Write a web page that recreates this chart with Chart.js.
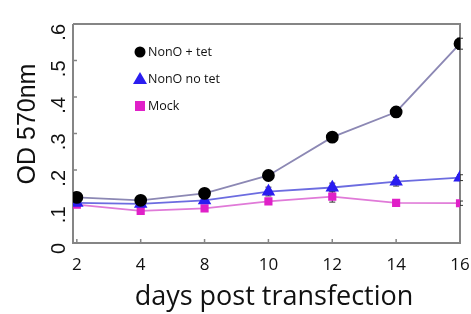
<!DOCTYPE html>
<html><head><meta charset="utf-8">
<script src="https://cdn.jsdelivr.net/npm/chart.js@4/dist/chart.umd.min.js"></script>
<style>html,body{margin:0;padding:0;background:#fff}#wrap{width:471px;height:314px}</style>
</head><body><div id="wrap"><canvas id="c" width="471" height="314"></canvas></div>
<script>
const days = ['2','4','8','10','12','14','16'];
const nonoTet = [0.125,0.117,0.136,0.185,0.290,0.359,0.546];
const nonoTetErr = [0.008,0.006,0.006,0.010,0.012,0.008,0.015];
const nonoNoTet = [0.110,0.107,0.117,0.141,0.152,0.168,0.179];
const nonoNoTetErr = [0.008,0.006,0.008,0.012,0.012,0.012,0.008];
const mock = [0.105,0.088,0.095,0.114,0.127,0.110,0.109];
const mockErr = [0.005,0.006,0.006,0.008,0.015,0.008,0.006];
const yTicks = [0,0.1,0.2,0.3,0.4,0.5,0.6];
const seriesNames = ['NonO + tet','NonO no tet','Mock'];
const xTitle = 'days post transfection';
const yTitle = 'OD 570nm';

const pts = arr => arr.map((v,i)=>({x:i,y:v}));
const AXIS = '#858585';

const extras = {
  id:'extras',
  beforeDatasetsDraw(chart){
    const {ctx, chartArea:a, scales:{x,y}} = chart;
    ctx.save();
    ctx.strokeStyle = AXIS; ctx.lineWidth = 2;
    ctx.beginPath();
    ctx.moveTo(a.left,a.top); ctx.lineTo(a.right,a.top); ctx.lineTo(a.right,a.bottom);
    ctx.lineTo(a.left,a.bottom); ctx.lineTo(a.left,a.top);
    ctx.stroke();
    ctx.lineWidth = 1.5;
    yTicks.forEach(v=>{ const py=y.getPixelForValue(v); ctx.beginPath(); ctx.moveTo(a.left,py); ctx.lineTo(a.left+4,py); ctx.stroke(); });
    days.forEach((d,i)=>{ const px=x.getPixelForValue(i); ctx.beginPath(); ctx.moveTo(px,a.bottom); ctx.lineTo(px,a.bottom-4); ctx.stroke(); });
    const errs=[nonoTetErr,nonoNoTetErr,mockErr];
    chart.data.datasets.forEach((ds,k)=>{
      ctx.strokeStyle = '#333'; ctx.lineWidth=1;
      ds.data.forEach((p,i)=>{
        const px=x.getPixelForValue(p.x);
        const y1=y.getPixelForValue(p.y+errs[k][i]), y2=y.getPixelForValue(p.y-errs[k][i]);
        ctx.beginPath(); ctx.moveTo(px,y1); ctx.lineTo(px,y2);
        ctx.moveTo(px-3,y1); ctx.lineTo(px+3,y1); ctx.moveTo(px-3,y2); ctx.lineTo(px+3,y2); ctx.stroke();
      });
    });
    ctx.restore();
  },
  afterDraw(chart){
    const {ctx} = chart;
    ctx.save();
    ctx.font = '12.5px "Open Sans"';
    ctx.textBaseline='middle'; ctx.fillStyle='#111';
    const lx=140, ys=[52,79,106];
    chart.data.datasets.forEach((ds,k)=>{
      const yy=ys[k];
      ctx.fillStyle=ds.pointBackgroundColor;
      ctx.beginPath();
      if(k===0){ ctx.arc(lx,yy,5.5,0,Math.PI*2); }
      else if(k===1){ ctx.moveTo(lx,yy-7); ctx.lineTo(lx+7,yy+5); ctx.lineTo(lx-7,yy+5); ctx.closePath(); }
      else { ctx.rect(lx-5,yy-5,10,10); }
      ctx.fill();
      ctx.fillStyle='#111';
      ctx.fillText(ds.label, lx+8, yy);
    });
    ctx.fillStyle='#111';
    ctx.textAlign='center'; ctx.textBaseline='middle';
    ctx.font='27px "Open Sans"';
    ctx.fillText(xTitle, 274, 297);
    ctx.translate(28,124); ctx.rotate(-Math.PI/2);
    ctx.font='25px "Liberation Sans"';
    ctx.fillText(yTitle, 0, 0);
    ctx.restore();
  }
};

new Chart(document.getElementById('c'),{
  type:'line',
  data:{datasets:[
    {label:seriesNames[0],data:pts(nonoTet),borderColor:'#8c88b4',borderWidth:1.8,pointStyle:'circle',pointRadius:5.5,pointBackgroundColor:'#000',pointBorderColor:'#000',tension:0},
    {label:seriesNames[1],data:pts(nonoNoTet),borderColor:'#6c6ce0',borderWidth:1.8,pointStyle:'triangle',pointRadius:6,pointBackgroundColor:'#2a1df0',pointBorderColor:'#2a1df0',tension:0},
    {label:seriesNames[2],data:pts(mock),borderColor:'#e07ad8',borderWidth:1.8,pointStyle:'rect',pointRadius:4.5,pointBackgroundColor:'#e020c8',pointBorderColor:'#e020c8',tension:0}
  ]},
  options:{
    responsive:false,animation:false,
    layout:{padding:{top:24,right:11,left:0,bottom:0}},
    plugins:{legend:{display:false},tooltip:{enabled:false}},
    scales:{
      x:{type:'linear',min:-0.06,max:6,
        afterBuildTicks(s){ s.ticks = days.map((d,i)=>({value:i})); },
        afterFit(s){ s.height=71; s.paddingLeft=0; s.paddingRight=0; },
        grid:{display:false,drawTicks:false},border:{display:false},
        ticks:{callback:(v)=>days[v],font:{family:'"Open Sans"',size:17},color:'#111',padding:12,maxRotation:0}},
      y:{min:0,max:0.6,
        afterBuildTicks(s){ s.ticks = yTicks.map(v=>({value:v})); },
        afterFit(s){ s.width=73; s.paddingTop=0; s.paddingBottom=0; },
        grid:{display:false,drawTicks:false},border:{display:false},
        ticks:{callback:(v)=> v===0?'0':'.'+Math.round(v*10),font:{family:'"Liberation Sans"',size:20},color:'#111',padding:14,minRotation:90,maxRotation:90}}
    }
  },
  plugins:[extras]
});
</script></body></html>
